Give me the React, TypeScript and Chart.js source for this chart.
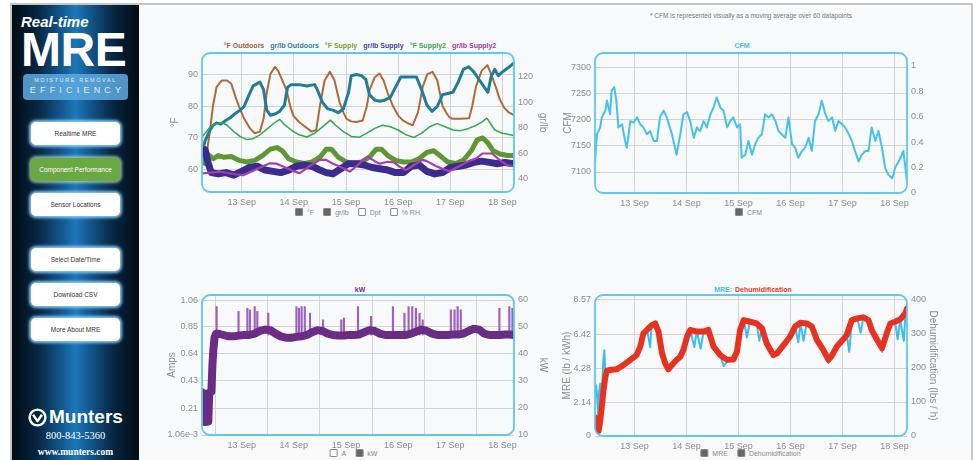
import React, { useEffect, useRef } from 'react';
import { Chart, registerables } from 'chart.js';

Chart.register(...registerables);

const FONT = '"Liberation Sans", Arial, Helvetica, sans-serif';
Chart.defaults.font.family = FONT;

// ---------- shared axis data ----------
const dayTicks = [13, 14, 15, 16, 17, 18];
const monthName = 'Sep';

// ---------- Chart 1: temperatures (°F) and humidity ratios (gr/lb) ----------
const outdoorTempDays = [12.25, 12.32, 12.39, 12.45, 12.52, 12.62, 12.72, 12.8, 12.9, 12.97, 13.05, 13.16, 13.25, 13.35, 13.42, 13.48, 13.55, 13.64, 13.7, 13.78, 13.86, 13.93, 13.99, 14.1, 14.18, 14.34, 14.43, 14.5, 14.59, 14.69, 14.78, 14.88, 14.95, 15.01, 15.1, 15.2, 15.32, 15.4, 15.45, 15.55, 15.64, 15.72, 15.8, 15.9, 16.0, 16.09, 16.2, 16.28, 16.38, 16.47, 16.56, 16.66, 16.75, 16.85, 16.92, 16.98, 17.04, 17.2, 17.36, 17.42, 17.49, 17.6, 17.71, 17.78, 17.87, 17.95, 18.03, 18.12, 18.22];
const outdoorTempF = [66, 64, 72, 80, 86, 88, 88, 87, 82, 79, 76, 73, 71.5, 72, 76, 84, 90, 92.3, 91, 88, 85, 80, 77, 75, 74, 72, 72.5, 80, 88, 90.7, 88, 81, 78, 76, 75.2, 75, 75.5, 80, 85, 89, 90.2, 88, 84, 80, 77, 75.5, 74.5, 74, 78, 86, 90, 90.7, 88, 80, 78, 76.5, 76, 76, 76.2, 80, 86, 91, 92.8, 90, 86, 82, 79.5, 78, 77.2];

const outdoorHumDays = [12.25, 12.3, 12.39, 12.45, 12.52, 12.6, 12.7, 12.78, 12.9, 12.97, 13.05, 13.12, 13.22, 13.35, 13.42, 13.48, 13.55, 13.64, 13.73, 13.82, 13.88, 13.95, 14.1, 14.25, 14.4, 14.45, 14.55, 14.65, 14.75, 14.85, 14.95, 15.05, 15.1, 15.2, 15.3, 15.38, 15.45, 15.55, 15.65, 15.75, 15.85, 15.95, 16.05, 16.2, 16.35, 16.45, 16.55, 16.65, 16.75, 16.85, 16.95, 17.05, 17.15, 17.25, 17.35, 17.45, 17.55, 17.65, 17.72, 17.78, 17.85, 17.92, 18.0, 18.1, 18.22];
const outdoorGrLb = [62, 70, 78, 82, 84, 83, 86, 88, 92, 94, 97, 104, 113, 116, 110, 94, 90, 91, 93, 98, 112, 114, 114, 113, 114, 110, 100, 95, 94, 92, 95, 108, 121, 122, 121, 118, 106, 102, 101, 102, 104, 112, 120, 120, 120, 110, 98, 93, 97, 106, 107, 108, 116, 126, 128, 124, 118, 112, 108, 120, 126, 121, 124, 127, 131];

const supplyTempDays = [12.25, 12.3, 12.35, 12.45, 12.55, 12.65, 12.8, 12.95, 13.1, 13.25, 13.4, 13.55, 13.68, 13.78, 13.9, 14.05, 14.2, 14.35, 14.5, 14.62, 14.72, 14.85, 15.0, 15.15, 15.3, 15.45, 15.58, 15.68, 15.8, 15.95, 16.1, 16.25, 16.4, 16.55, 16.68, 16.8, 16.95, 17.1, 17.25, 17.4, 17.52, 17.62, 17.72, 17.82, 17.95, 18.1, 18.22];
const supplyTempF = [67, 62, 65, 63.5, 64.5, 64, 64.2, 63, 62.5, 63, 64.5, 66.5, 67, 66, 63.5, 62.5, 62, 62.5, 64, 66.5, 66.5, 64, 62.5, 62, 62.5, 64, 66.5, 66.5, 64.5, 63, 62.5, 62.5, 63.5, 65.5, 66, 64.5, 62.5, 62, 63, 66, 69.5, 70, 68.5, 66, 65, 64.5, 64.5];

const supplyHumDays = [12.25, 12.3, 12.36, 12.42, 12.55, 12.7, 12.85, 13.0, 13.15, 13.3, 13.45, 13.6, 13.75, 13.9, 14.05, 14.2, 14.35, 14.5, 14.62, 14.75, 14.9, 15.05, 15.2, 15.35, 15.5, 15.65, 15.8, 15.95, 16.1, 16.25, 16.4, 16.55, 16.7, 16.85, 17.0, 17.15, 17.3, 17.45, 17.6, 17.75, 17.9, 18.05, 18.22];
const supplyGrLb = [60, 63, 52, 45, 44, 45, 43, 46, 49, 50, 47, 46, 45, 47, 50, 51, 50, 47, 45, 44, 48, 52, 52, 51, 49, 48, 47, 45, 45, 50, 51, 46, 44, 45, 49, 50, 51, 53, 54, 53, 52, 53, 52];

const supply2TempDays = [12.25, 12.3, 12.4, 12.5, 12.62, 12.72, 12.85, 12.97, 13.1, 13.22, 13.35, 13.5, 13.65, 13.73, 13.8, 13.95, 14.1, 14.25, 14.4, 14.55, 14.7, 14.8, 14.95, 15.1, 15.25, 15.4, 15.55, 15.7, 15.85, 16.0, 16.15, 16.3, 16.45, 16.6, 16.75, 16.9, 17.05, 17.2, 17.35, 17.5, 17.6, 17.7, 17.75, 17.85, 18.0, 18.22];
const supply2TempF = [70.5, 71.5, 73.5, 74.5, 74.8, 74, 72, 70.5, 69.5, 69.8, 71, 73, 75, 75.8, 74.5, 72.5, 71, 70.3, 71.5, 73.5, 75.6, 74, 72, 70.5, 70.2, 71.5, 73, 74, 73.5, 72.5, 71, 70.2, 71.5, 73.5, 74.5, 73.5, 72.5, 72.3, 73, 74, 75, 76.2, 75, 72.5, 71.5, 70.8];

const supply2HumDays = [12.25, 12.4, 12.59, 12.75, 12.9, 13.03, 13.2, 13.41, 13.54, 13.67, 13.86, 14.0, 14.11, 14.3, 14.5, 14.62, 14.75, 14.88, 15.07, 15.2, 15.3, 15.42, 15.55, 15.65, 15.8, 15.92, 16.05, 16.15, 16.3, 16.47, 16.55, 16.73, 16.85, 16.98, 17.17, 17.35, 17.49, 17.62, 17.8, 17.94, 18.08, 18.22];
const supply2GrLb = [44.4, 45, 45.7, 44.5, 43.5, 43, 46, 50, 52.3, 52, 48.6, 46, 44.6, 50, 55, 55, 52, 49.8, 45.8, 50, 54, 57.5, 54, 52, 53.5, 53, 49, 47, 51, 55, 54, 50, 48, 46, 50, 54, 56, 60, 60, 55, 51, 50];

const tempTicks = [60, 70, 80, 90];
const grLbTicks = [40, 60, 80, 100, 120];

// ---------- Chart 2: CFM ----------
const cfmDays = [12.24, 12.28, 12.34, 12.37, 12.44, 12.47, 12.53, 12.56, 12.61, 12.65, 12.69, 12.76, 12.82, 12.85, 12.92, 12.98, 13.05, 13.11, 13.17, 13.24, 13.3, 13.37, 13.43, 13.49, 13.56, 13.62, 13.72, 13.81, 13.88, 13.94, 14.01, 14.07, 14.14, 14.2, 14.26, 14.33, 14.39, 14.46, 14.52, 14.58, 14.65, 14.71, 14.78, 14.84, 14.9, 14.97, 15.03, 15.06, 15.13, 15.19, 15.26, 15.32, 15.38, 15.45, 15.51, 15.58, 15.64, 15.71, 15.77, 15.83, 15.9, 15.96, 16.03, 16.09, 16.15, 16.22, 16.28, 16.35, 16.41, 16.47, 16.54, 16.6, 16.67, 16.73, 16.8, 16.86, 16.92, 16.99, 17.05, 17.12, 17.18, 17.24, 17.31, 17.37, 17.44, 17.5, 17.56, 17.63, 17.69, 17.76, 17.82, 17.88, 17.95, 17.98, 18.01, 18.08, 18.14, 18.17, 18.21, 18.24];
const cfmValues = [7120, 7172, 7185, 7204, 7217, 7236, 7210, 7255, 7262, 7236, 7185, 7191, 7159, 7146, 7197, 7194, 7204, 7191, 7185, 7172, 7178, 7159, 7159, 7204, 7217, 7204, 7172, 7133, 7172, 7210, 7214, 7197, 7165, 7185, 7178, 7197, 7185, 7210, 7223, 7242, 7223, 7217, 7185, 7197, 7204, 7185, 7191, 7127, 7133, 7159, 7133, 7153, 7165, 7172, 7210, 7204, 7210, 7197, 7178, 7172, 7165, 7204, 7153, 7146, 7127, 7140, 7146, 7165, 7140, 7197, 7210, 7236, 7210, 7197, 7204, 7178, 7197, 7191, 7185, 7172, 7159, 7140, 7120, 7133, 7140, 7140, 7185, 7159, 7178, 7146, 7108, 7095, 7088, 7095, 7108, 7120, 7133, 7140, 7108, 7082];
const cfmTicks = [7100, 7150, 7200, 7250, 7300];
const cfmRightTicks = [0, 0.2, 0.4, 0.6, 0.8, 1];

// ---------- Chart 3: kW ----------
const kwDays = [12.24, 12.245, 12.3, 12.36, 12.38, 12.42, 12.44, 12.46, 12.48, 12.51, 12.55, 12.65, 12.75, 12.85, 12.95, 13.05, 13.15, 13.25, 13.35, 13.45, 13.55, 13.65, 13.75, 13.85, 13.95, 14.05, 14.15, 14.25, 14.35, 14.45, 14.55, 14.65, 14.75, 14.85, 14.95, 15.05, 15.15, 15.25, 15.35, 15.45, 15.55, 15.65, 15.75, 15.85, 15.95, 16.05, 16.15, 16.25, 16.35, 16.45, 16.55, 16.65, 16.75, 16.85, 16.95, 17.05, 17.15, 17.25, 17.35, 17.45, 17.55, 17.65, 17.75, 17.85, 17.95, 18.05, 18.15, 18.22];
const kwValues = [25.7, 15, 14.8, 15, 25.7, 26, 36, 42, 46, 47.5, 47.5, 47, 46.5, 46.5, 46.8, 47, 47, 47.5, 48.5, 49, 48.8, 47.5, 46.5, 46, 46, 46.3, 46.5, 47, 48, 48.8, 48.5, 47.5, 47, 46.8, 46.8, 47, 47, 47.2, 48, 48.8, 48.5, 47.5, 47, 47, 47, 47, 47, 47.5, 48.3, 49, 48.5, 47.5, 47, 47, 47, 47.2, 47.2, 47.5, 48.5, 49.3, 49, 47.5, 47, 47, 47, 47.2, 47.2, 47];
const kwSpikeDays = [12.52, 12.94, 13.11, 13.16, 13.25, 13.3, 13.51, 14.05, 14.1, 14.15, 14.21, 14.31, 14.56, 14.91, 14.96, 15.23, 15.48, 15.9, 16.12, 16.2, 16.27, 16.34, 16.41, 16.47, 17.01, 17.08, 17.14, 17.2, 17.94, 18.13, 18.19];
const kwSpikePeaks = [57.5, 55.7, 56.9, 56.3, 57.5, 55.7, 55.1, 57.5, 56.9, 57.5, 57.5, 55.1, 52.6, 52.6, 53.3, 57.5, 53.9, 57.5, 55.1, 57.5, 57.5, 56.9, 55.1, 52.6, 56.3, 56.3, 57.5, 56.3, 56.9, 57.5, 56.9];
const kwSpikeBase = 47;
const ampTicks = [0.00106, 0.21, 0.43, 0.64, 0.85, 1.06];
const ampTickLabels = ['1.06e-3', '0.21', '0.43', '0.64', '0.85', '1.06'];
const kwTicks = [10, 20, 30, 40, 50, 60];

// ---------- Chart 4: MRE and Dehumidification ----------
const mreDays = [12.24, 12.26, 12.28, 12.3, 12.32, 12.34, 12.37, 12.4, 12.42, 12.44, 12.47, 12.53, 12.66, 12.79, 12.92, 13.04, 13.11, 13.17, 13.24, 13.3, 13.33, 13.4, 13.46, 13.53, 13.59, 13.65, 13.72, 13.81, 13.88, 13.94, 14.01, 14.07, 14.15, 14.2, 14.27, 14.33, 14.42, 14.52, 14.65, 14.72, 14.78, 14.9, 14.97, 15.03, 15.1, 15.16, 15.22, 15.35, 15.4, 15.45, 15.54, 15.67, 15.74, 15.87, 15.99, 16.09, 16.15, 16.19, 16.25, 16.31, 16.41, 16.51, 16.63, 16.73, 16.79, 16.89, 16.99, 17.08, 17.13, 17.18, 17.28, 17.35, 17.4, 17.5, 17.56, 17.66, 17.76, 17.85, 17.92, 18.01, 18.06, 18.11, 18.18, 18.21, 18.24];
const mreValues = [2.4, 3.2, 2.6, 1.2, 2.8, 3.3, 2.5, 4.8, 5.4, 3.9, 4.1, 4.2, 4.1, 4.5, 4.8, 5.0, 5.6, 6.5, 6.7, 5.6, 7.0, 7.2, 6.6, 5.1, 4.5, 4.1, 4.4, 4.8, 5.0, 5.4, 6.3, 6.7, 5.6, 6.6, 5.5, 6.6, 6.7, 5.6, 5.0, 4.4, 4.7, 4.8, 5.3, 6.7, 7.4, 6.2, 7.2, 7.1, 6.0, 6.8, 5.8, 5.0, 5.2, 5.7, 6.2, 6.9, 5.9, 7.1, 6.0, 7.1, 6.9, 6.0, 5.4, 4.6, 5.0, 5.6, 5.9, 6.4, 5.3, 7.3, 7.5, 6.5, 7.5, 7.3, 6.7, 6.0, 5.3, 6.4, 7.0, 7.2, 6.1, 7.3, 6.0, 7.7, 7.9];
const dehumDays = [12.24, 12.28, 12.31, 12.34, 12.37, 12.4, 12.44, 12.47, 12.53, 12.66, 12.79, 12.92, 13.04, 13.11, 13.17, 13.24, 13.33, 13.4, 13.46, 13.53, 13.59, 13.65, 13.72, 13.81, 13.88, 13.94, 14.01, 14.07, 14.2, 14.33, 14.42, 14.52, 14.65, 14.78, 14.9, 14.97, 15.03, 15.1, 15.22, 15.35, 15.45, 15.54, 15.67, 15.74, 15.87, 15.99, 16.09, 16.19, 16.31, 16.41, 16.51, 16.63, 16.73, 16.79, 16.89, 16.99, 17.08, 17.18, 17.28, 17.4, 17.5, 17.56, 17.66, 17.76, 17.85, 17.92, 18.01, 18.11, 18.21, 18.24];
const dehumValues = [55, 20, 15, 45, 85, 130, 175, 192, 194, 196, 209, 224, 238, 263, 302, 312, 326, 331, 307, 243, 214, 196, 209, 224, 233, 253, 292, 312, 307, 307, 312, 263, 238, 224, 225, 248, 312, 341, 336, 331, 317, 273, 238, 243, 268, 292, 322, 333, 331, 322, 282, 253, 224, 235, 263, 280, 297, 341, 346, 349, 341, 312, 284, 258, 302, 331, 336, 343, 361, 375];
const mreTicks = [0, 2.14, 4.28, 6.42, 8.57];
const dehumTicks = [0, 100, 200, 300, 400];

// ---------- styling ----------
const C = {
  brown: '#b06a35',
  teal: '#1f7d9b',
  olive: '#5f9832',
  indigo: '#3a2b8c',
  green: '#33a853',
  magenta: '#a83fb0',
  cfm: '#45c1ee',
  kw: '#6b2c86',
  kwSpike: '#9c62bd',
  mre: '#3cbdec',
  dehum: '#e8321f',
  grid: '#d4d4d4',
  tick: '#8c8c8c',
  frame: '#5ec8f0',
};

const pts = (xs: number[], ys: number[]) => xs.map((x, i) => ({ x, y: ys[i] }));

const plotFrame = {
  id: 'plotFrame',
  afterDraw(chart: any) {
    const { ctx, chartArea: a } = chart;
    ctx.save();
    ctx.strokeStyle = C.frame;
    ctx.lineWidth = 1.8;
    ctx.beginPath();
    (ctx as any).roundRect(a.left, a.top, a.right - a.left, a.bottom - a.top, 8);
    ctx.stroke();
    ctx.restore();
  },
};

type AxisSpec = {
  min: number;
  max: number;
  ticks: number[];
  labels?: string[];
  title?: string;
  titlePad?: number;
  width: number;
};

function yAxis(spec: AxisSpec, position: 'left' | 'right', grid: boolean) {
  return {
    type: 'linear',
    position,
    min: spec.min,
    max: spec.max,
    afterBuildTicks: (s: any) => {
      s.ticks = spec.ticks.map((v) => ({ value: v }));
    },
    ticks: {
      callback: (v: any, i: number) => (spec.labels ? spec.labels[i] : String(v)),
      color: C.tick,
      font: { family: FONT, size: 9 },
      padding: 4,
      autoSkip: false,
    },
    grid: { display: grid, drawOnChartArea: grid, drawTicks: false, color: C.grid },
    border: { display: false },
    title: spec.title
      ? {
          display: true,
          text: spec.title,
          color: C.tick,
          font: { family: FONT, size: 10 },
          padding: { top: spec.titlePad ?? 0, bottom: 0 },
        }
      : { display: false },
    afterFit: (s: any) => {
      s.width = spec.width;
    },
  };
}

function xAxis(min: number, max: number, height: number) {
  return {
    type: 'linear',
    min,
    max,
    offset: false,
    afterBuildTicks: (s: any) => {
      s.ticks = dayTicks.map((v) => ({ value: v }));
    },
    ticks: {
      callback: (v: any) => `${v} ${monthName}`,
      color: C.tick,
      font: { family: FONT, size: 9 },
      padding: 5,
      maxRotation: 0,
      autoSkip: false,
    },
    grid: { color: C.grid, drawTicks: false },
    border: { display: false },
    afterFit: (s: any) => {
      s.height = height;
    },
  };
}

function baseOptions(scales: any) {
  return {
    responsive: false,
    maintainAspectRatio: false,
    animation: false,
    layout: { padding: { top: 15, left: 0, right: 0, bottom: 0 } },
    plugins: { legend: { display: false }, title: { display: false }, tooltip: { enabled: false } },
    elements: { point: { radius: 0 }, line: { tension: 0, borderJoinStyle: 'round', borderCapStyle: 'round' } },
    scales,
  };
}

const buildClimate = () => ({
  type: 'line',
  data: {
    datasets: [
      { label: 'gr/lb Supply2', data: pts(supply2HumDays, supply2GrLb), borderColor: C.magenta, borderWidth: 2.2, yAxisID: 'y1', order: 0 },
      { label: 'gr/lb Supply', data: pts(supplyHumDays, supplyGrLb), borderColor: C.indigo, borderWidth: 7, yAxisID: 'y1', order: 1 },
      { label: '°F Supply', data: pts(supplyTempDays, supplyTempF), borderColor: C.olive, borderWidth: 5, yAxisID: 'y', order: 2 },
      { label: '°F Supply2', data: pts(supply2TempDays, supply2TempF), borderColor: C.green, borderWidth: 1.5, yAxisID: 'y', order: 3 },
      { label: 'gr/lb Outdoors', data: pts(outdoorHumDays, outdoorGrLb), borderColor: C.teal, borderWidth: 3, yAxisID: 'y1', order: 4 },
      { label: '°F Outdoors', data: pts(outdoorTempDays, outdoorTempF), borderColor: C.brown, borderWidth: 2, yAxisID: 'y', order: 5 },
    ],
  },
  options: baseOptions({
    x: xAxis(12.24, 18.22, 26),
    y: yAxis({ min: 53.1, max: 96.6, ticks: tempTicks, title: '°F', titlePad: 19, width: 52 }, 'left', true),
    y1: yAxis({ min: 29.8, max: 138.8, ticks: grLbTicks, title: 'gr/lb', titlePad: 1, width: 36 }, 'right', false),
  }),
  plugins: [plotFrame],
});

const buildCfm = () => ({
  type: 'line',
  data: {
    datasets: [{ label: 'CFM', data: pts(cfmDays, cfmValues), borderColor: C.cfm, borderWidth: 2, yAxisID: 'y' }],
  },
  options: baseOptions({
    x: xAxis(12.24, 18.24, 25),
    y: yAxis({ min: 7060, max: 7326.7, ticks: cfmTicks, title: 'CFM', titlePad: 10, width: 43 }, 'left', true),
    y1: yAxis({ min: 0, max: 1.1, ticks: cfmRightTicks, width: 45 }, 'right', false),
  }),
  plugins: [plotFrame],
});

const buildKw = () => ({
  type: 'line',
  data: {
    datasets: [
      { label: 'kW', data: pts(kwDays, kwValues), borderColor: C.kw, borderWidth: 8, yAxisID: 'y1', order: 0 },
      {
        type: 'bar',
        label: 'kW peaks',
        data: kwSpikeDays.map((d, i) => ({ x: d, y: [kwSpikeBase, kwSpikePeaks[i]] })),
        backgroundColor: C.kwSpike,
        barThickness: 1.5,
        yAxisID: 'y1',
        order: 1,
      },
    ],
  },
  options: baseOptions({
    x: xAxis(12.24, 18.22, 25),
    y: yAxis({ min: 0.00106, max: 1.1, ticks: ampTicks, labels: ampTickLabels, title: 'Amps', titlePad: 16, width: 52 }, 'left', true),
    y1: yAxis({ min: 10, max: 61.8, ticks: kwTicks, title: 'kW', titlePad: 1, width: 36 }, 'right', false),
  }),
  plugins: [plotFrame],
});

const buildMre = () => ({
  type: 'line',
  data: {
    datasets: [
      { label: 'Dehumidification', data: pts(dehumDays, dehumValues), borderColor: C.dehum, borderWidth: 6, yAxisID: 'y1', order: 0 },
      { label: 'MRE', data: pts(mreDays, mreValues), borderColor: C.mre, borderWidth: 2, yAxisID: 'y', order: 1 },
    ],
  },
  options: baseOptions({
    x: xAxis(12.24, 18.24, 24),
    y: yAxis({ min: 0, max: 8.885, ticks: mreTicks, title: 'MRE (lb / kWh)', titlePad: 9, width: 43 }, 'left', true),
    y1: yAxis({ min: 0, max: 414.7, ticks: dehumTicks, title: 'Dehumidification (lbs / h)', titlePad: 13, width: 45 }, 'right', false),
  }),
  plugins: [plotFrame],
});

function ChartCanvas({ build, left, top, width, height }: { build: () => any; left: number; top: number; width: number; height: number }) {
  const ref = useRef<HTMLCanvasElement | null>(null);
  useEffect(() => {
    if (!ref.current) return;
    const chart = new Chart(ref.current, build());
    return () => chart.destroy();
  }, []);
  return <canvas ref={ref} width={width} height={height} style={{ position: 'absolute', left, top, width, height }} />;
}

function Check({ checked, label }: { checked: boolean; label: string }) {
  return (
    <span style={{ display: 'inline-flex', alignItems: 'center', marginRight: 9, color: '#8a8a8a' }}>
      <span
        style={{
          display: 'inline-block',
          width: 6,
          height: 6,
          border: '1px solid #8a8a8a',
          background: checked ? '#666' : '#fff',
          borderRadius: 1,
          marginRight: 4,
        }}
      />
      <span style={{ color: '#8a8a8a' }}>{label}</span>
    </span>
  );
}

const centerText = (x: number, y: number): React.CSSProperties => ({
  position: 'absolute',
  left: x,
  top: y,
  transform: 'translate(-50%, -50%)',
  whiteSpace: 'nowrap',
  fontFamily: FONT,
});

function NavButton({ top, label, green }: { top: number; label: string; green?: boolean }) {
  return (
    <div
      style={{
        position: 'absolute',
        left: 19,
        top,
        width: 89,
        height: 23,
        borderRadius: 5,
        background: green ? '#6aa843' : '#ffffff',
        boxShadow: green ? '0 0 3px 2px rgba(200,230,200,0.7)' : '0 0 3px 2px rgba(140,205,255,0.95)',
        color: green ? '#ffffff' : '#333333',
        fontFamily: FONT,
        fontSize: 6.5,
        display: 'flex',
        alignItems: 'center',
        justifyContent: 'center',
        whiteSpace: 'nowrap',
      }}
    >
      {label}
    </div>
  );
}

function Sidebar() {
  return (
    <div
      style={{
        position: 'absolute',
        left: 12,
        top: 5,
        width: 127,
        height: 455,
        background:
          'linear-gradient(90deg, #020b14 0%, #062640 20%, #135a92 40%, #1d78b8 50%, #135a92 60%, #062640 80%, #020b14 100%)',
        overflow: 'hidden',
      }}
    >
      <div style={{ position: 'absolute', left: 9, top: 9, font: `italic bold 15px ${FONT}`, lineHeight: '15px', color: '#fff' }}>Real-time</div>
      <div style={{ position: 'absolute', left: 9, top: 21, font: `bold 48px ${FONT}`, lineHeight: '48px', color: '#fff', letterSpacing: -0.5 }}>MRE</div>
      <div
        style={{
          position: 'absolute',
          left: 11,
          top: 69,
          width: 105,
          height: 26,
          borderRadius: 4,
          background: 'rgba(95,170,225,0.85)',
          color: '#dcefff',
          fontFamily: FONT,
          textAlign: 'center',
        }}
      >
        <div style={{ fontSize: 5.5, letterSpacing: 1.6, marginTop: 3, lineHeight: '7px' }}>MOISTURE REMOVAL</div>
        <div style={{ fontSize: 9, letterSpacing: 4.2, lineHeight: '12px', marginLeft: 4 }}>EFFICIENCY</div>
      </div>
      <NavButton top={117} label="Realtime MRE" />
      <NavButton top={153} label="Component Performance" green />
      <NavButton top={188} label="Sensor Locations" />
      <NavButton top={243} label="Select Date/Time" />
      <NavButton top={278} label="Download CSV" />
      <NavButton top={313} label="More About MRE" />
      <svg style={{ position: 'absolute', left: 16, top: 403 }} width={19} height={19} viewBox="0 0 20 20">
        <circle cx="10" cy="10" r="8.3" fill="none" stroke="#fff" strokeWidth="2.6" />
        <path d="M5.3 7.2 L10 13.8 L14.7 7.2" fill="none" stroke="#fff" strokeWidth="2.6" strokeLinejoin="round" />
      </svg>
      <div style={{ position: 'absolute', left: 37, top: 402, font: `bold 19px ${FONT}`, lineHeight: '20px', color: '#fff' }}>Munters</div>
      <div style={{ position: 'absolute', left: 0, width: 127, top: 425, textAlign: 'center', font: `10.5px "Liberation Serif", "Times New Roman", serif`, lineHeight: '12px', color: '#fff' }}>800-843-5360</div>
      <div style={{ position: 'absolute', left: 0, width: 127, top: 442, textAlign: 'center', font: `bold 9.5px "Liberation Serif", "Times New Roman", serif`, lineHeight: '11px', color: '#fff' }}>www.munters.com</div>
    </div>
  );
}

export default function App() {
  const titleFont: React.CSSProperties = { fontSize: 7, fontWeight: 'bold' };
  const legendFont: React.CSSProperties = { fontSize: 7, color: '#8a8a8a', display: 'flex', alignItems: 'center' };
  return (
    <div style={{ position: 'absolute', left: 0, top: 0, width: 979, height: 460, overflow: 'hidden', background: '#ffffff' }}>
      <div
        style={{
          position: 'absolute',
          left: 10,
          top: 3,
          width: 959,
          height: 470,
          borderTop: '2px solid #c6c6c6',
          borderLeft: '2px solid #c6c6c6',
          borderRight: '2px solid #c6c6c6',
          background: '#f8f9fa',
        }}
      />
      <Sidebar />

      <div style={{ ...centerText(751, 15), fontSize: 6.5, color: '#777' }}>
        * CFM is represented visually as a moving average over 60 datapoints
      </div>

      {/* chart titles */}
      <div style={{ ...centerText(360, 45), ...titleFont }}>
        <span style={{ color: '#a0603a' }}>°F Outdoors</span>
        <span style={{ color: '#2a7d9c', marginLeft: 6 }}>gr/lb Outdoors</span>
        <span style={{ color: '#7f9e30', marginLeft: 6 }}>°F Supply</span>
        <span style={{ color: '#4a3aa8', marginLeft: 6 }}>gr/lb Supply</span>
        <span style={{ color: '#3aa352', marginLeft: 6 }}>°F Supply2</span>
        <span style={{ color: '#9a3a9e', marginLeft: 6 }}>gr/lb Supply2</span>
      </div>
      <div style={{ ...centerText(742, 45), ...titleFont, color: '#3fbdea' }}>CFM</div>
      <div style={{ ...centerText(360, 289), ...titleFont, color: '#7a2f91' }}>kW</div>
      <div style={{ ...centerText(753, 289), ...titleFont }}>
        <span style={{ color: '#3fbdea' }}>MRE:</span>
        <span style={{ color: '#e83a25', marginLeft: 3 }}>Dehumidification</span>
      </div>

      {/* checkbox legends */}
      <div style={{ ...centerText(362, 212), ...legendFont }}>
        <Check checked label="°F" />
        <Check checked label="gr/lb" />
        <Check checked={false} label="Dpt" />
        <Check checked={false} label="% RH" />
      </div>
      <div style={{ ...centerText(753, 212), ...legendFont }}>
        <Check checked label="CFM" />
      </div>
      <div style={{ ...centerText(358, 453), ...legendFont }}>
        <Check checked={false} label="A" />
        <Check checked label="kW" />
      </div>
      <div style={{ ...centerText(755, 453), ...legendFont }}>
        <Check checked label="MRE" />
        <Check checked label="Dehumidification" />
      </div>

      <ChartCanvas build={buildClimate} left={150} top={38} width={400} height={180} />
      <ChartCanvas build={buildCfm} left={552} top={38} width={400} height={180} />
      <ChartCanvas build={buildKw} left={150} top={280} width={400} height={180} />
      <ChartCanvas build={buildMre} left={552} top={280} width={400} height={180} />
    </div>
  );
}
